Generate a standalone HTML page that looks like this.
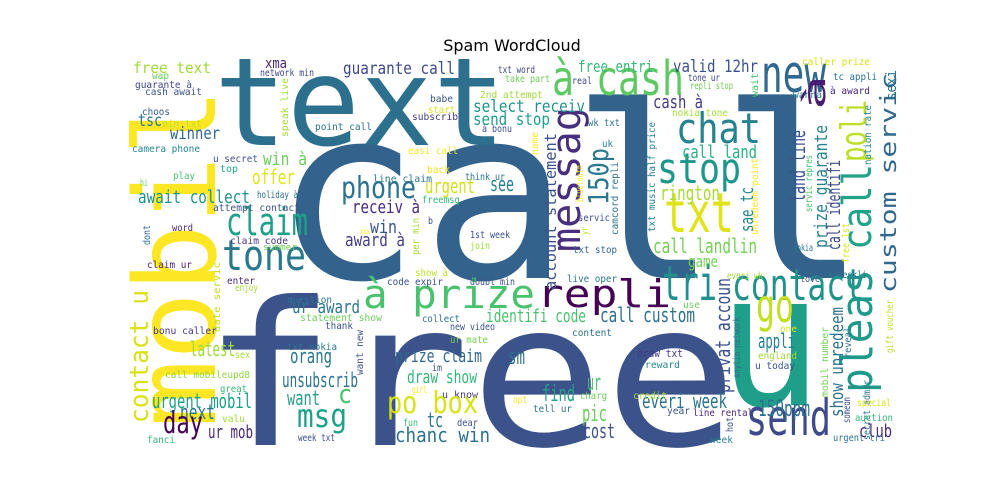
<!DOCTYPE html>
<html><head><meta charset="utf-8"><style>
html,body{margin:0;padding:0;background:#fff;width:1000px;height:500px;overflow:hidden}
svg text{font-family:"DejaVu Sans Mono","Liberation Mono",monospace}
</style></head><body>
<svg id="cloud" width="1000" height="500" viewBox="0 0 1000 500" xmlns="http://www.w3.org/2000/svg">
<rect width="1000" height="500" fill="#fff"/>
<text x="512" y="51" text-anchor="middle" style="font-family:'DejaVu Sans','Liberation Sans',sans-serif;font-size:16px" fill="#000">Spam WordCloud</text>
<g id="words"></g>
</svg>
<script>
// [text, x, y, fontSize, color, rotation(0|-90), length]
const words = [
["call",272,278,240,"#33638d",0,596],
["free",202,445,200,"#3b528b",0,536],
["text",214,145,122,"#2d708e",0,292],
["mobil",215,428,112,"#fde725",-90,340],
["u",718,405,185,"#1f9e89",0,104],
["repli",537,307,38,"#440154",0,134],
["à prize",363,308,40,"#4ac16d",0,172],
["tone",222,270,42,"#2a788e",0,84],
["claim",226,235,38,"#1fa187",0,82],
["phone",341,198,30,"#2c728e",0,75],
["à cash",552,95,48,"#5ec962",0,132],
["new",761,92,52,"#31688e",0,65],
["chat",676,143,42,"#26828e",0,85],
["stop",657,183,42,"#1f968b",0,84],
["txt",664,232,55,"#e0e318",0,70],
["messag",580,252,40,"#472f7d",-90,145],
["tri",662,300,48,"#218f8d",0,55],
["contact",732,300,44,"#21918c",0,132],
["go",756,322,46,"#c2df23",0,38],
["send",746,435,50,"#3e4a89",0,85],
["pleas",872,393,44,"#1f9a8a",-90,124],
["call",871,250,40,"#20a386",-90,86],
["poli",866,162,36,"#bddf26",-90,62],
["custom servic",896,293,22,"#31688e",-90,220],
["contact u",148,423,26,"#d8e219",-90,133],
["free text",133,73,15,"#a0da39",0,78],
["xma",265,68,14,"#482475",0,22],
["network min",260,76,10,"#414487",0,54],
["guarante call",343,74,17,"#3e4a89",0,112],
["wap",152,79,10,"#6ccd5a",0,17],
["guarante à",135,88,10,"#3f4788",0,57],
["cash await",145,95,10,"#3b528b",0,57],
["choos",142,115,10,"#35608d",0,28],
["tsc",138,126,17,"#2a788e",0,24],
["min txt",162,127,10,"#bddf26",0,40],
["winner",170,139,17,"#31688e",0,50],
["camera phone",132,152,10,"#25858e",0,68],
["play",173,179,10,"#4ac16d",0,22],
["hi",140,186,10,"#75d054",0,8],
["await collect",138,203,18,"#21918c",0,112],
["u secret",213,162,10,"#3a548c",0,45],
["top",220,172,10,"#22a785",0,18],
["speak live",288,137,10,"#a2da37",-90,59],
["win à",263,165,18,"#6ccd5a",0,44],
["offer",252,184,20,"#e2e418",0,43],
["holiday à",257,198,10,"#2e6e8e",0,41],
["attempt contact",213,211,10,"#3b528b",0,87],
["word",172,231,10,"#482878",0,21],
["dont",150,245,10,"#31688e",-90,20],
["claim code",230,244,10,"#443a83",0,58],
["summer",263,250,9,"#6ece58",0,34],
["point call",315,130,10,"#2c728e",0,57],
["babe",430,102,10,"#3b528b",0,23],
["start",428,113,10,"#d8e219",0,27],
["subscrib",412,120,10,"#443983",0,46],
["2nd attempt",480,98,10,"#a0da39",0,63],
["urgent",425,193,20,"#d0e11c",0,50],
["see",490,191,20,"#26828e",0,24],
["receiv à",352,213,18,"#472c7a",0,68],
["easi call",408,154,10,"#fde725",0,50],
["back",427,173,10,"#f1e51d",0,23],
["line claim",373,182,10,"#2a788e",0,59],
["freemsg",422,203,10,"#35b779",0,38],
["think ur",465,180,10,"#2c728e",0,40],
["win",370,233,18,"#3b528b",0,27],
["award à",345,246,18,"#433e85",0,60],
["xxx",360,234,8,"#fde725",0,10],
["per min",419,255,10,"#a0da39",-90,37],
["b",428,224,10,"#3b528b",0,5],
["1st week",470,238,10,"#3b528b",0,40],
["join",470,249,10,"#a0da39",0,20],
["txt word",498,73,10,"#414487",0,37],
["take part",505,82,10,"#6ccd5a",0,45],
["real",572,84,10,"#3e4a89",0,20],
["free entri",578,72,16,"#35b779",0,75],
["valid 12hr",673,72,17,"#3b528b",0,85],
["tone ur",688,81,10,"#3e4989",0,32],
["repli stop",690,89,10,"#6ece58",0,43],
["wait",758,97,10,"#4ac16d",-90,24],
["caller prize",802,65,10,"#d8e219",0,68],
["tc appli",833,80,10,"#2c728e",0,44],
["à award",830,94,10,"#482475",0,40],
["wanna",793,98,10,"#26828e",0,29],
["nation rate",871,165,10,"#26828e",-90,60],
["select receiv",473,112,17,"#20928c",0,112],
["send stop",473,125,17,"#1f9e89",0,77],
["à bonu",482,132,10,"#3b528b",0,30],
["account statement",556,290,16,"#3b528b",-90,157],
["150p",608,205,28,"#2a788e",-90,57],
["name",538,155,10,"#fde725",-90,23],
["bluetooth",583,202,10,"#fde725",-90,37],
["yr",588,235,10,"#bddf26",-90,8],
["servic",578,221,10,"#3b528b",0,32],
["txt stop",573,253,10,"#31688e",0,44],
["wk txt",588,126,10,"#2c728e",0,32],
["uk",602,147,10,"#26828e",0,11],
["camcord repli",618,235,10,"#2c728e",-90,73],
["txt music half price",655,232,10,"#26828e",-90,110],
["cash à",653,108,18,"#443983",0,50],
["nokia tone",672,116,10,"#a5db36",0,56],
["call land",682,158,18,"#29af7f",0,75],
["rington",660,200,20,"#a8db34",0,60],
["call landlin",653,253,20,"#75d054",0,104],
["sae tc",753,232,18,"#25848e",-90,45],
["unredeem point",758,235,10,"#fde725",-90,77],
["land line",805,202,20,"#3b528b",-90,72],
["prize guarante",827,248,18,"#25838e",-90,123],
["à",825,110,30,"#481f70",-90,35],
["call identifi",840,250,18,"#3e4a89",-90,90],
["servic repres",812,212,10,"#4ac16d",-90,57],
["nokia",793,251,10,"#2c728e",0,20],
["free 1st",849,263,10,"#d8e219",-90,40],
["sexi",896,100,14,"#2c728e",-90,30],
["game",688,267,16,"#75d054",0,30],
["live oper",567,282,10,"#2a788e",0,50],
["everi wk",727,279,10,"#a0da39",0,36],
["love",800,282,10,"#3b528b",0,20],
["à weekli",828,278,10,"#2a788e",0,39],
["identifi code",486,322,18,"#4ac16d",0,100],
["call custom",600,322,20,"#2e6e8e",0,95],
["use",683,308,10,"#6ccd5a",0,17],
["privat accoun",730,393,20,"#3b528b",-90,115],
["content",572,336,10,"#2c728e",0,40],
["one",780,332,10,"#d8e219",0,17],
["anytim network",740,378,10,"#2c728e",-90,61],
["appli",758,348,20,"#26828e",0,37],
["england",758,359,10,"#a0da39",0,39],
["u today",755,369,10,"#3b528b",0,40],
["show unredeem",843,417,18,"#2c728e",-90,110],
["mobil number",828,397,10,"#75d054",-90,70],
["reveal",851,358,10,"#2c728e",-90,31],
["secret admir",870,440,10,"#2c728e",-90,60],
["gift voucher",893,353,10,"#bddf26",-90,53],
["someon",850,423,10,"#3b528b",-90,26],
["special",857,406,10,"#d8e219",0,34],
["auction",855,421,10,"#35b779",0,38],
["club",859,437,18,"#482878",0,33],
["urgent tri",833,441,10,"#2c728e",0,52],
["150ppm",758,416,22,"#2c728e",0,52],
["hot",733,432,10,"#3b528b",-90,15],
["week",710,443,10,"#26828e",0,23],
["line rental",693,416,10,"#482878",0,60],
["year",667,414,10,"#3b528b",0,23],
["everi week",642,408,20,"#2c728e",0,85],
["credit",633,399,10,"#a0da39",0,34],
["charg",580,399,10,"#6ccd5a",0,27],
["find",542,401,22,"#2a9d8a",0,33],
["ur",587,390,22,"#4ac16d",0,14],
["draw txt",637,357,11,"#443983",0,46],
["reward",645,368,10,"#25858e",0,35],
["sm",508,364,22,"#2c728e",0,17],
["pic",582,421,22,"#6ccd5a",0,25],
["cost",583,438,20,"#3b528b",0,32],
["opt",513,403,10,"#fde725",0,14],
["tell ur",533,412,10,"#2c728e",0,39],
["claim ur",147,268,10,"#482878",0,45],
["date servic",220,332,10,"#bddf26",-90,70],
["enter",227,284,10,"#482878",0,28],
["enjoy",235,291,10,"#a5db36",0,23],
["bonu caller",153,334,10,"#443983",0,64],
["latest",190,356,20,"#a0da39",0,45],
["sex",235,358,10,"#a5db36",0,15],
["call mobileupd8",165,378,10,"#8fd744",0,85],
["great",220,392,10,"#35b779",0,27],
["urgent mobil",152,408,20,"#1fa187",0,100],
["next",180,419,20,"#2a788e",0,35],
["valu",222,422,10,"#a5db36",0,23],
["day",163,433,30,"#440154",0,40],
["ur mob",208,438,18,"#482878",0,45],
["fanci",147,443,10,"#35b779",0,28],
["question",287,303,10,"#2a788e",0,45],
["ur award",292,313,18,"#2a788e",0,68],
["statement show",300,321,10,"#6ccd5a",0,82],
["thank",325,329,10,"#3b528b",0,28],
["want new",363,375,10,"#3b528b",-90,45],
["txt nokia",287,350,10,"#2a788e",0,50],
["orang",290,363,20,"#2a788e",0,42],
["unsubscrib",282,387,20,"#2c728e",0,76],
["c",338,403,26,"#4ac16d",0,14],
["want",287,405,20,"#2a9d8a",0,33],
["msg",297,427,32,"#1fa187",0,50],
["week txt",298,441,10,"#3e4a89",0,37],
["show à",415,276,10,"#bddf26",0,33],
["code expir",387,285,10,"#3b528b",0,56],
["doubl min",470,285,10,"#3b528b",0,45],
["collect",422,322,10,"#2c728e",0,38],
["new video",450,330,10,"#3b528b",0,45],
["ur mate",450,343,10,"#75d054",0,38],
["prize claim",395,362,18,"#31688e",0,87],
["im",432,371,10,"#3b528b",0,10],
["draw show",407,383,18,"#35b779",0,70],
["girl",412,393,10,"#fde725",0,15],
["u know",442,398,10,"#443983",0,36],
["po box",387,413,30,"#d8e219",0,91],
["fun",403,426,10,"#35b779",0,15],
["tc",427,427,20,"#2a788e",0,16],
["dear",457,426,10,"#3b528b",0,21],
["chanc win",395,442,20,"#2c728e",0,95]
];

const g = document.getElementById('words');
const NS = 'http://www.w3.org/2000/svg';
words.forEach(function(w){
  const t = document.createElementNS(NS,'text');
  
  
  t.setAttribute('x', w[1]);
  t.setAttribute('y', w[2]);
  t.setAttribute('font-size', w[3]);
  t.setAttribute('fill', w[4]);
  if (w[5]) t.setAttribute('transform', 'rotate(' + w[5] + ' ' + w[1] + ' ' + w[2] + ')');
  if (w[6]) { t.setAttribute('textLength', w[6]); t.setAttribute('lengthAdjust', 'spacingAndGlyphs'); }
  t.textContent = w[0];
  g.appendChild(t);
});
</script>
</body></html>
